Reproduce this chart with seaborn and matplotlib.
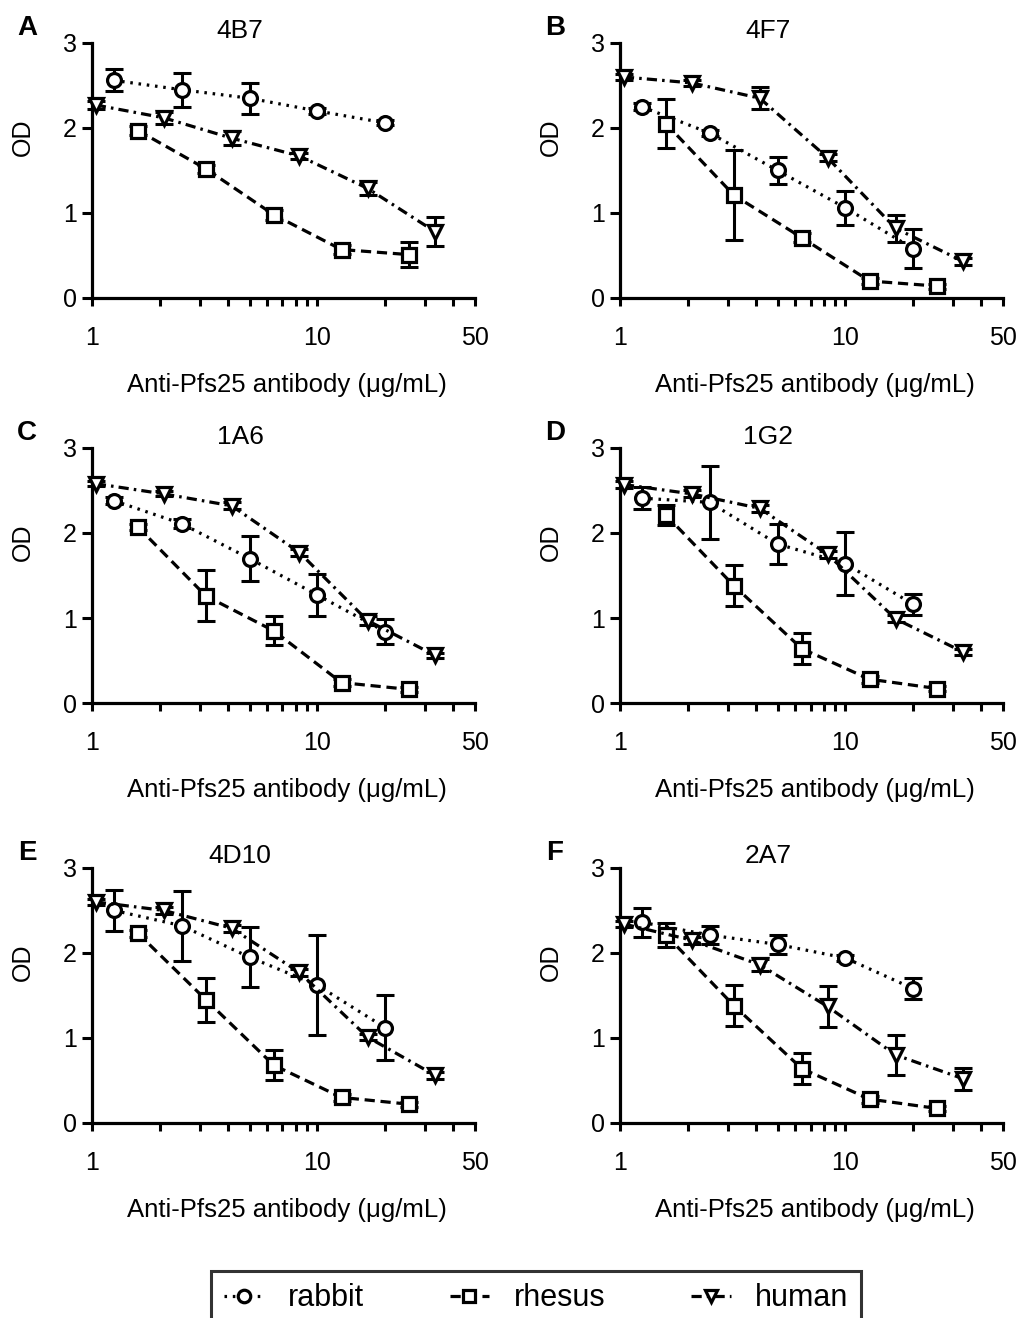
import numpy as np
import pandas as pd
import matplotlib
matplotlib.use('Agg')
import matplotlib.pyplot as plt
from matplotlib.lines import Line2D
from matplotlib.ticker import FixedLocator, NullFormatter
import seaborn as sns

# antibody clones / panel letters
clones = ['4B7', '4F7', '1A6', '1G2', '4D10', '2A7']
letters = ['A', 'B', 'C', 'D', 'E', 'F']
species = ['rabbit', 'rhesus', 'human']

# doses (ug/mL) per species
rabbit_dose = [1.25, 2.5, 5, 10, 20]
rhesus_dose = [1.6, 3.2, 6.4, 12.8, 25.6]
human_dose = [1.04, 2.08, 4.17, 8.33, 16.7, 33.3]

# OD means and error bars, one row per panel (A..F)
rabbit_od = [[2.56, 2.45, 2.35, 2.20, 2.06],
             [2.25, 1.94, 1.50, 1.06, 0.58],
             [2.38, 2.11, 1.70, 1.27, 0.84],
             [2.41, 2.36, 1.87, 1.64, 1.16],
             [2.50, 2.32, 1.95, 1.62, 1.12],
             [2.36, 2.21, 2.10, 1.94, 1.58]]
rabbit_err = [[0.13, 0.20, 0.18, 0.04, 0.03],
              [0.04, 0.04, 0.16, 0.20, 0.23],
              [0.04, 0.05, 0.27, 0.25, 0.15],
              [0.13, 0.43, 0.23, 0.37, 0.12],
              [0.24, 0.41, 0.35, 0.59, 0.38],
              [0.17, 0.11, 0.11, 0.04, 0.12]]

rhesus_od = [[1.97, 1.52, 0.98, 0.57, 0.51],
             [2.05, 1.21, 0.71, 0.20, 0.14],
             [2.07, 1.26, 0.85, 0.24, 0.16],
             [2.21, 1.38, 0.64, 0.28, 0.17],
             [2.23, 1.45, 0.68, 0.30, 0.22],
             [2.21, 1.38, 0.64, 0.28, 0.17]]
rhesus_err = [[0.05, 0.05, 0.06, 0.05, 0.15],
              [0.29, 0.53, 0.05, 0.04, 0.03],
              [0.04, 0.30, 0.17, 0.04, 0.03],
              [0.12, 0.24, 0.18, 0.04, 0.03],
              [0.04, 0.26, 0.18, 0.04, 0.03],
              [0.14, 0.24, 0.18, 0.04, 0.03]]

human_od = [[2.27, 2.12, 1.88, 1.67, 1.29, 0.78],
            [2.60, 2.53, 2.35, 1.65, 0.82, 0.43],
            [2.58, 2.46, 2.32, 1.77, 0.97, 0.56],
            [2.57, 2.46, 2.29, 1.75, 0.99, 0.60],
            [2.60, 2.50, 2.29, 1.77, 1.01, 0.56],
            [2.34, 2.15, 1.86, 1.37, 0.80, 0.52]]
human_err = [[0.05, 0.07, 0.08, 0.04, 0.08, 0.17],
             [0.04, 0.04, 0.13, 0.04, 0.16, 0.04],
             [0.03, 0.03, 0.04, 0.04, 0.05, 0.03],
             [0.04, 0.04, 0.04, 0.04, 0.04, 0.04],
             [0.04, 0.04, 0.04, 0.04, 0.04, 0.04],
             [0.04, 0.04, 0.07, 0.24, 0.24, 0.13]]

doses = {'rabbit': rabbit_dose, 'rhesus': rhesus_dose, 'human': human_dose}
ods = {'rabbit': rabbit_od, 'rhesus': rhesus_od, 'human': human_od}
errs = {'rabbit': rabbit_err, 'rhesus': rhesus_err, 'human': human_err}

markers = {'rabbit': 'o', 'rhesus': 's', 'human': 'v'}
dashes = {'rabbit': (0.8, 1.8), 'rhesus': (3.2, 1.8), 'human': (3.2, 1.6, 0.8, 1.6)}

sns.set_style('ticks')
plt.rcParams['font.family'] = ['Liberation Sans', 'DejaVu Sans']
plt.rcParams['axes.linewidth'] = 2.3
for key in ['text.color', 'axes.labelcolor', 'xtick.color', 'ytick.color', 'axes.edgecolor']:
    plt.rcParams[key] = 'black'

fig = plt.figure(figsize=(10.21, 13.18), dpi=100)

col_x = [0.0901, 0.6073]
row_y = [0.7739, 0.4666, 0.1480]
ax_w, ax_h = 0.375, 0.1935

for i, clone in enumerate(clones):
    r, c = divmod(i, 2)
    ax = fig.add_axes([col_x[c], row_y[r], ax_w, ax_h])

    rows = []
    for sp in species:
        for d, v in zip(doses[sp], ods[sp][i]):
            rows.append({'dose': d, 'od': v, 'species': sp})
    df = pd.DataFrame(rows)

    for sp in species:
        ax.errorbar(doses[sp], ods[sp][i], yerr=errs[sp][i], fmt='none',
                    ecolor='black', elinewidth=2.2, capsize=6.5, capthick=2.2,
                    zorder=2, clip_on=False)

    sns.lineplot(data=df, x='dose', y='od', hue='species', style='species',
                 hue_order=species, style_order=species,
                 palette={s: 'black' for s in species},
                 markers=markers, dashes=dashes, errorbar=None, legend=False,
                 linewidth=2.3, markersize=10, markerfacecolor='white',
                 markeredgecolor='black', markeredgewidth=2.3,
                 ax=ax, zorder=3, clip_on=False)

    ax.set_xscale('log')
    ax.set_xlim(1, 50)
    ax.set_ylim(0, 3)
    ax.xaxis.set_major_locator(FixedLocator([1, 10, 50]))
    ax.xaxis.set_minor_locator(FixedLocator([2, 3, 4, 5, 6, 7, 8, 9, 20, 30, 40]))
    ax.xaxis.set_minor_formatter(NullFormatter())
    ax.set_xticklabels(['1', '10', '50'])
    ax.set_yticks([0, 1, 2, 3])
    ax.tick_params(axis='x', which='both', direction='out', length=6, width=2.2,
                   labelsize=18, pad=14)
    ax.tick_params(axis='y', direction='out', length=7, width=2.2,
                   labelsize=18, pad=4)
    sns.despine(ax=ax)

    ax.set_xlabel('Anti-Pfs25 antibody (\u03bcg/mL)', fontsize=18.5)
    ax.xaxis.set_label_coords(0.51, -0.295)
    ax.set_ylabel('OD', fontsize=18)
    ax.yaxis.set_label_coords(-0.15, 0.63)

    ax.text(0.387, 1.045, clone, transform=ax.transAxes, ha='center',
            va='center', fontsize=19)
    ax.text(-0.17, 1.06, letters[i], transform=ax.transAxes, ha='center',
            va='center', fontsize=20, fontweight='bold')

handles = [Line2D([], [], color='black', linewidth=2.3, dashes=dashes[sp],
                  marker=markers[sp], markersize=9, markerfacecolor='white',
                  markeredgecolor='black', markeredgewidth=2.3)
           for sp in species]
leg = fig.legend(handles, species, loc='upper center', ncol=3,
                 bbox_to_anchor=(0.525, 1 - 1271 / 1318), borderaxespad=0,
                 fontsize=22, handlelength=1.3, handletextpad=0.8,
                 columnspacing=2.8, frameon=True, fancybox=False, borderpad=0.4)
leg.get_frame().set_edgecolor('black')
leg.get_frame().set_linewidth(2.2)

fig.savefig('out.png', dpi=100, facecolor='white')
